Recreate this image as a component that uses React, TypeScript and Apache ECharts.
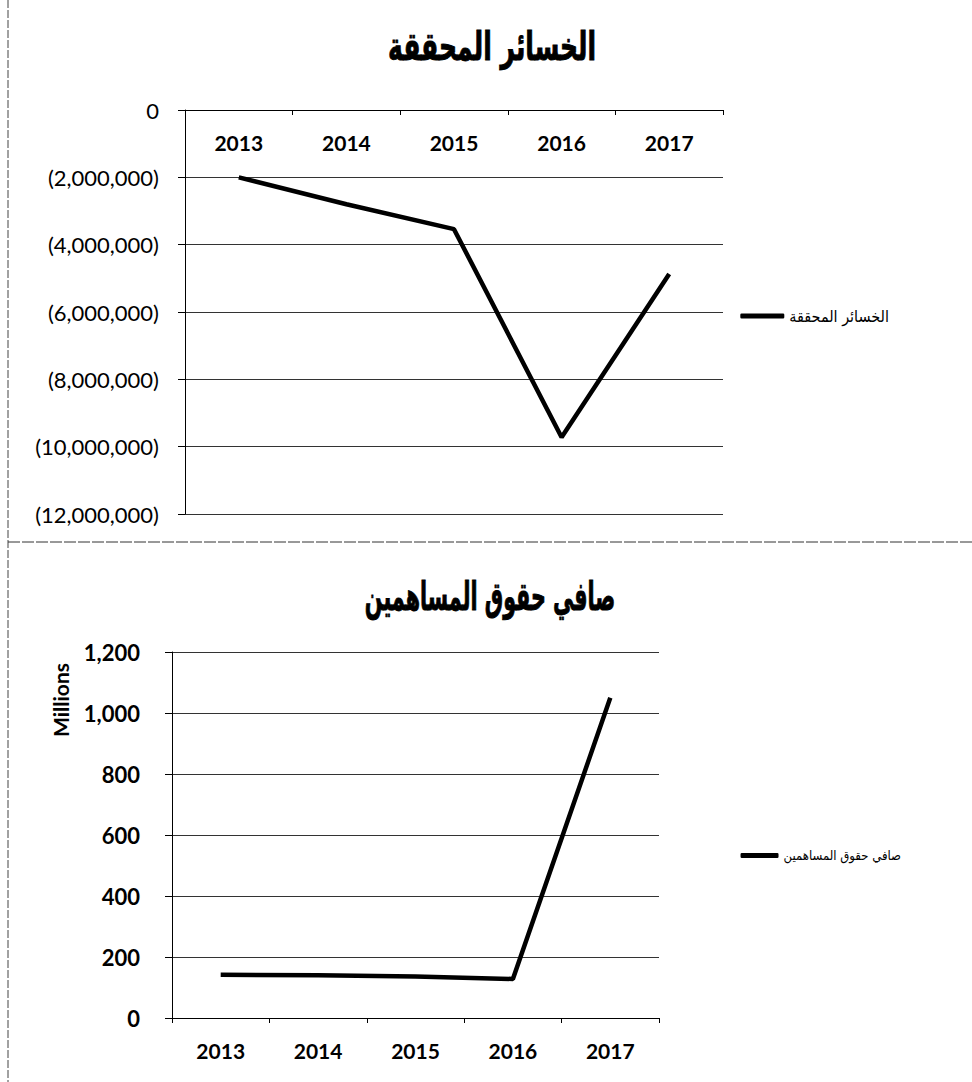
import React, { useEffect, useRef } from "react";
import * as echarts from "echarts";

const years = ["2013", "2014", "2015", "2016", "2017"];
const lossesTitle = "الخسائر المحققة";
const lossesValues = [-2000000, -2800000, -3540000, -9720000, -4870000];
const equityTitle = "صافي حقوق المساهمين";
const equityValues = [142, 140, 136, 128, 1050];
const equityUnit = "Millions";

const fmtNum = (v: number) => Math.abs(v).toLocaleString("en-US");

export default function App() {
  const ref = useRef<HTMLDivElement>(null);
  useEffect(() => {
    document.body.style.margin = "0";
    const chart = echarts.init(ref.current!, null, { renderer: "svg" });
    const latin = "Lato, 'DejaVu Sans', sans-serif";
    const arabic = "'DejaVu Sans', sans-serif";
    const arabicNarrow = "'DejaVu Sans Condensed', 'DejaVu Sans', sans-serif";
    const gridColor = "#333";
    chart.setOption({
      animation: false,
      backgroundColor: "#fff",
      legend: [
        {
          data: [lossesTitle],
          right: 78,
          top: 303,
          icon: "roundRect",
          itemWidth: 44,
          itemHeight: 5,
          itemGap: 3,
          textStyle: { fontFamily: arabicNarrow, fontSize: 16, color: "#000" },
        },
        {
          data: [equityTitle],
          right: 66,
          top: 844,
          icon: "roundRect",
          itemWidth: 38,
          itemHeight: 5,
          itemGap: 3,
          textStyle: { fontFamily: arabicNarrow, fontSize: 13, color: "#000" },
        },
      ],
      grid: [
        { left: 185, top: 110, width: 538, height: 404 },
        { left: 172, top: 652, width: 487, height: 366 },
      ],
      xAxis: [
        {
          type: "category",
          gridIndex: 0,
          data: years,
          position: "top",
          boundaryGap: true,
          axisLine: { show: true, onZero: false, lineStyle: { color: "#000", width: 1 } },
          axisTick: { show: true, inside: true, length: 5, lineStyle: { color: "#000" } },
          axisLabel: {
            inside: true,
            margin: 22,
            fontFamily: latin,
            fontSize: 21,
            fontWeight: "bold",
            color: "#000",
          },
        },
        {
          type: "category",
          gridIndex: 1,
          data: years,
          boundaryGap: true,
          axisLine: { show: true, lineStyle: { color: "#000", width: 1 } },
          axisTick: { show: true, length: 5, lineStyle: { color: "#000" } },
          axisLabel: {
            margin: 22,
            fontFamily: latin,
            fontSize: 21,
            fontWeight: "bold",
            color: "#000",
          },
        },
      ],
      yAxis: [
        {
          type: "value",
          gridIndex: 0,
          min: -12000000,
          max: 0,
          interval: 2000000,
          axisLine: { show: true, lineStyle: { color: "#000", width: 1 } },
          axisTick: { show: true, length: 7, lineStyle: { color: "#000" } },
          splitLine: { show: true, lineStyle: { color: gridColor, width: 1 } },
          axisLabel: {
            margin: 26,
            fontFamily: latin,
            fontSize: 22,
            color: "#000",
            formatter: (v: number) => (v === 0 ? "0" : "(" + fmtNum(v) + ")"),
          },
        },
        {
          type: "value",
          gridIndex: 1,
          min: 0,
          max: 1200,
          interval: 200,
          axisLine: { show: true, lineStyle: { color: "#000", width: 1 } },
          axisTick: { show: true, length: 7, lineStyle: { color: "#000" } },
          splitLine: { show: true, lineStyle: { color: gridColor, width: 1 } },
          axisLabel: {
            margin: 32,
            fontFamily: latin,
            fontSize: 22,
            fontWeight: "bold",
            color: "#000",
            formatter: (v: number) => fmtNum(v),
          },
        },
      ],
      series: [
        {
          name: lossesTitle,
          type: "line",
          xAxisIndex: 0,
          yAxisIndex: 0,
          data: lossesValues,
          symbol: "none",
          lineStyle: { color: "#000", width: 4.5 },
          itemStyle: { color: "#000" },
        },
        {
          name: equityTitle,
          type: "line",
          xAxisIndex: 1,
          yAxisIndex: 1,
          data: equityValues,
          symbol: "none",
          lineStyle: { color: "#000", width: 4.5 },
          itemStyle: { color: "#000" },
        },
      ],
      graphic: [
        {
          type: "line",
          shape: { x1: 8, y1: 0, x2: 8, y2: 1082 },
          style: { stroke: "#444", lineWidth: 1, lineDash: [8, 2] },
        },
        {
          type: "line",
          shape: { x1: 8, y1: 542, x2: 972, y2: 542 },
          style: { stroke: "#333", lineWidth: 1, lineDash: [12, 2] },
        },
        {
          type: "text",
          x: 492,
          y: 47,
          scaleX: 0.64,
          style: {
            text: lossesTitle,
            fontFamily: arabic,
            fontSize: 39,
            fontWeight: "bold",
            fill: "#000",
            stroke: "#000",
            lineWidth: 1,
            textAlign: "center",
            textVerticalAlign: "middle",
          },
        },
        {
          type: "text",
          x: 490,
          y: 596,
          scaleX: 0.53,
          style: {
            text: equityTitle,
            fontFamily: arabic,
            fontSize: 39,
            fontWeight: "bold",
            fill: "#000",
            stroke: "#000",
            lineWidth: 1,
            textAlign: "center",
            textVerticalAlign: "middle",
          },
        },
        {
          type: "text",
          x: 60,
          y: 700,
          rotation: Math.PI / 2,
          style: {
            text: equityUnit,
            fontFamily: latin,
            fontSize: 21,
            fontWeight: "bold",
            fill: "#000",
            textAlign: "center",
            textVerticalAlign: "middle",
          },
        },
      ],
    });
    return () => chart.dispose();
  }, []);
  return <div ref={ref} style={{ width: 972, height: 1082 }} />;
}
